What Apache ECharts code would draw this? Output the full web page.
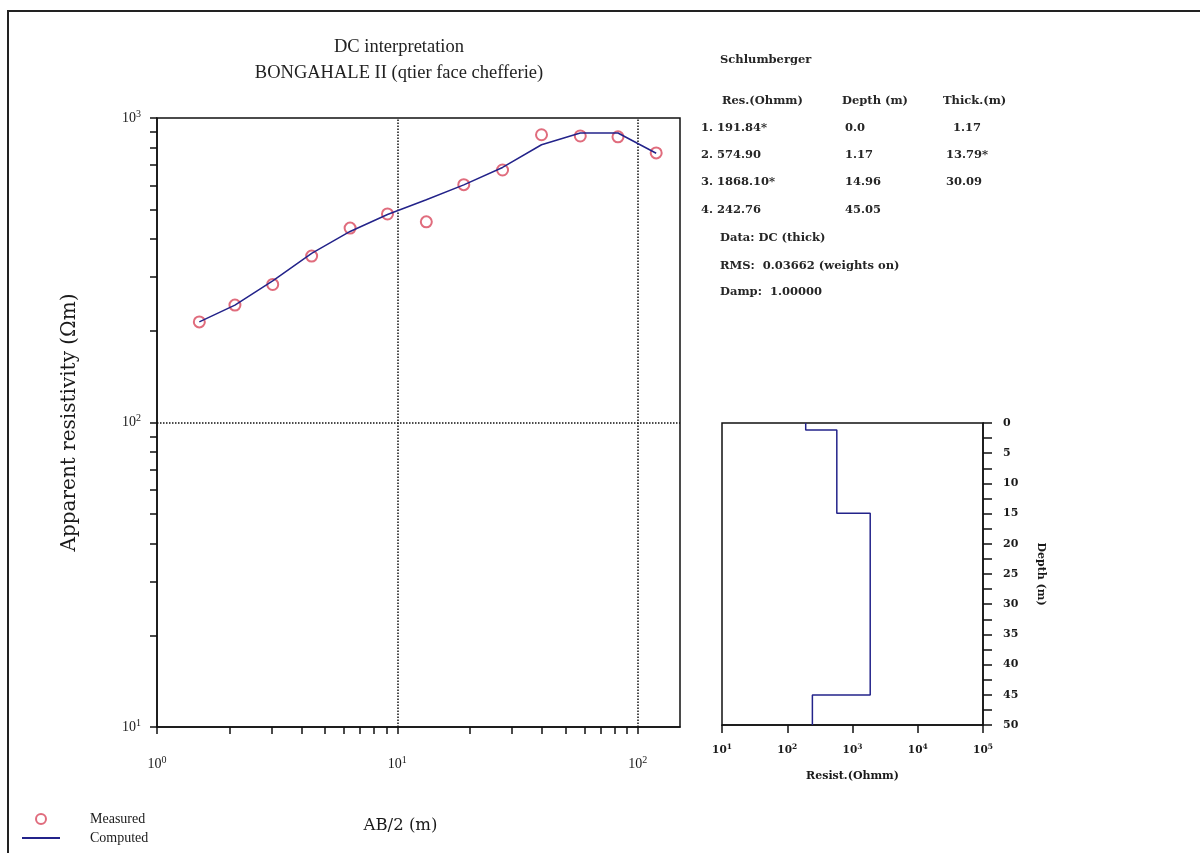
<!DOCTYPE html>
<html>
<head>
<meta charset="utf-8">
<script src="https://cdn.jsdelivr.net/npm/echarts@6/dist/echarts.min.js"></script>
<style>
html,body{margin:0;padding:0;background:#fff;}
#chart{width:1200px;height:853px;}
</style>
</head>
<body>
<div id="chart"></div>
<script>
// ---- data ----
const abHalf   = [1.5, 2.11, 3.03, 4.4, 6.36, 9.1, 13.2, 18.9, 27.4, 39.8, 57.7, 82.8, 119.4];
const measured = [214, 243, 284, 352, 435, 484, 456, 604, 675, 881, 873, 867, 768];
const computed = [214, 243, 292, 359, 424, 482, 539, 603, 688, 817, 893, 893, 766];

const layerRes  = [191.84, 574.90, 1868.10, 242.76];
const layerTops = [0, 1.17, 14.96, 45.05];
const maxDepth  = 50;

const resLabels   = ['191.84*', '574.90', '1868.10*', '242.76'];
const depthLabels = ['0.0', '1.17', '14.96', '45.05'];
const thickLabels = ['1.17', '13.79*', '30.09'];

const mainXTicks  = [1,2,3,4,5,6,7,8,9,10,20,30,40,50,60,70,80,90,100];
const mainXLabels = [1, 10, 100];
const mainYTicks  = [10,20,30,40,50,60,70,80,90,100,200,300,400,500,600,700,800,900,1000];
const mainYLabels = [10, 100, 1000];
const gridX = [10, 100];
const gridY = [100];

// ---- build ----
const measuredPts = abHalf.map((x, i) => [x, measured[i]]);
const computedPts = abHalf.map((x, i) => [x, computed[i]]);
const stepPts = [];
layerRes.forEach((r, i) => {
  const top = layerTops[i];
  const bot = i + 1 < layerTops.length ? layerTops[i + 1] : maxDepth;
  stepPts.push([r, top]);
  stepPts.push([r, bot]);
});

const SERIF = '"Liberation Serif", "Times New Roman", serif';
const WSERIF = '"DejaVu Serif", "Liberation Serif", serif';
const INK = '#1a1a1a';
function pow10(v) { return Math.round(Math.log10(v)); }
function supFmt(v) { return '{b|10}{s|' + pow10(v) + '}'; }
function richSup(base, sup, family, bold) {
  return {
    b: {fontSize: base, fontFamily: family, color: INK, lineHeight: base + 4, fontWeight: bold ? 'bold' : 'normal'},
    s: {fontSize: sup, fontFamily: family, color: INK, lineHeight: sup + 1, verticalAlign: 'top', fontWeight: bold ? 'bold' : 'normal'}
  };
}

const chart = echarts.init(document.getElementById('chart'), null, {renderer: 'canvas'});

const tableFont = {fontFamily: WSERIF, fontSize: 11.5, fontWeight: 'bold', fill: '#262626'};
function txt(x, y, s) {
  return {type: 'text', x: x, y: y, style: Object.assign({text: s, verticalAlign: 'middle'}, tableFont)};
}
const graphics = [
  {type: 'polyline', shape: {points: [[8, 853], [8, 11], [1200, 11]]}, style: {stroke: '#222', lineWidth: 2, fill: null}},
  txt(720, 60, 'Schlumberger'),
  txt(722, 101, 'Res.(Ohmm)'),
  txt(842, 101, 'Depth (m)'),
  txt(943, 101, 'Thick.(m)')
];
const rowY = [128, 155, 182, 210];
resLabels.forEach((s, i) => {
  graphics.push(txt(701, rowY[i], (i + 1) + '.'));
  graphics.push(txt(717, rowY[i], s));
  graphics.push(txt(845, rowY[i], depthLabels[i]));
  if (i < thickLabels.length) graphics.push(txt(i === 0 ? 953 : 946, rowY[i], thickLabels[i]));
});
graphics.push(txt(720, 238, 'Data: DC (thick)'));
graphics.push(txt(720, 266, 'RMS:  0.03662 (weights on)'));
graphics.push(txt(720, 292, 'Damp:  1.00000'));

const option = {
  backgroundColor: '#fff',
  animation: false,
  title: {
    text: 'DC interpretation\nBONGAHALE II (qtier face chefferie)',
    left: 399, top: 34, textAlign: 'center', padding: 0,
    textStyle: {fontFamily: SERIF, fontSize: 18.5, fontWeight: 'normal', color: '#222', lineHeight: 26}
  },
  legend: {
    left: 22, top: 812, padding: 0, orient: 'vertical', itemWidth: 38, itemHeight: 10, itemGap: 5,
    textStyle: {fontFamily: SERIF, fontSize: 14, color: INK, padding: [0, 0, 0, 25]},
    data: [
      {name: 'Measured'},
      {name: 'Computed', icon: 'path://M0,0 L40,0 L40,2 L0,2 Z', itemStyle: {color: '#23238a'}}
    ]
  },
  graphic: graphics,
  grid: [
    {left: 157, top: 118, width: 523, height: 609, show: true, borderColor: '#111', borderWidth: 1.5, backgroundColor: 'transparent'},
    {left: 722, top: 423, width: 261, height: 302, show: true, borderColor: '#111', borderWidth: 1.5, backgroundColor: 'transparent'}
  ],
  xAxis: [
    {
      gridIndex: 0, type: 'log', logBase: 10, min: 1, max: 150,
      name: 'AB/2 (m)', nameLocation: 'middle', nameGap: 90,
      nameTextStyle: {fontFamily: WSERIF, fontSize: 16.5, color: INK, padding: [0, 36, 0, 0]},
      axisLine: {show: true, onZero: false, lineStyle: {color: '#111', width: 1.5}},
      axisTick: {show: true, inside: false, length: 7, customValues: mainXTicks, lineStyle: {color: '#111', width: 1.5}},
      minorTick: {show: false},
      axisLabel: {customValues: mainXLabels, margin: 28, formatter: supFmt, rich: richSup(14, 10, SERIF, false)},
      splitLine: {show: false}
    },
    {
      gridIndex: 1, type: 'log', logBase: 10, min: 10, max: 100000,
      name: 'Resist.(Ohmm)', nameLocation: 'middle', nameGap: 46,
      nameTextStyle: {fontFamily: WSERIF, fontSize: 11, fontWeight: 'bold', color: INK},
      axisLine: {show: true, onZero: false, lineStyle: {color: '#111', width: 1.5}},
      axisTick: {show: true, inside: false, length: 8, lineStyle: {color: '#111', width: 1.5}},
      axisLabel: {margin: 18, formatter: supFmt, rich: richSup(10.5, 7.5, WSERIF, true)},
      splitLine: {show: false}
    }
  ],
  yAxis: [
    {
      gridIndex: 0, type: 'log', logBase: 10, min: 10, max: 1000,
      name: 'Apparent resistivity (\u03A9m)', nameLocation: 'middle', nameGap: 77, nameRotate: 90,
      nameTextStyle: {fontFamily: WSERIF, fontSize: 20, color: INK},
      axisLine: {show: true, onZero: false, lineStyle: {color: '#111', width: 1.5}},
      axisTick: {show: true, inside: false, length: 7, customValues: mainYTicks, lineStyle: {color: '#111', width: 1.5}},
      axisLabel: {customValues: mainYLabels, margin: 16, formatter: supFmt, rich: richSup(14, 10, SERIF, false)},
      splitLine: {show: false}
    },
    {
      gridIndex: 1, type: 'value', min: 0, max: maxDepth, interval: 5, inverse: true, position: 'right',
      name: 'Depth (m)', nameLocation: 'middle', nameGap: 52, nameRotate: -90,
      nameTextStyle: {fontFamily: WSERIF, fontSize: 11, fontWeight: 'bold', color: INK},
      axisLine: {show: true, onZero: false, lineStyle: {color: '#111', width: 1.5}},
      axisTick: {show: true, inside: false, length: 9, lineStyle: {color: '#111', width: 1.5}},
      minorTick: {show: true, splitNumber: 2, length: 9, lineStyle: {color: '#111', width: 1.5}},
      axisLabel: {margin: 20, fontFamily: WSERIF, fontSize: 11, fontWeight: 'bold', color: INK},
      splitLine: {show: false}
    }
  ],
  series: [
    {
      name: 'Measured', type: 'scatter', xAxisIndex: 0, yAxisIndex: 0,
      symbol: 'emptyCircle', symbolSize: 11, z: 2,
      itemStyle: {color: '#d8475c', borderColor: '#d8475c', borderWidth: 1.5},
      data: measuredPts
    },
    {
      name: 'Computed', type: 'line', xAxisIndex: 0, yAxisIndex: 0,
      symbol: 'none', showSymbol: false, z: 3,
      lineStyle: {color: '#23238a', width: 1.5},
      itemStyle: {color: '#23238a'},
      data: computedPts,
      markLine: {
        silent: true, symbol: 'none', label: {show: false}, z: 1,
        lineStyle: {type: 'dotted', color: '#111', width: 1.5},
        data: gridX.map(v => ({xAxis: v})).concat(gridY.map(v => ({yAxis: v})))
      }
    },
    {
      name: 'Model', type: 'line', xAxisIndex: 1, yAxisIndex: 1,
      symbol: 'none', z: 3,
      lineStyle: {color: '#23238a', width: 1.5},
      data: stepPts
    }
  ]
};
chart.setOption(option);
</script>
</body>
</html>
